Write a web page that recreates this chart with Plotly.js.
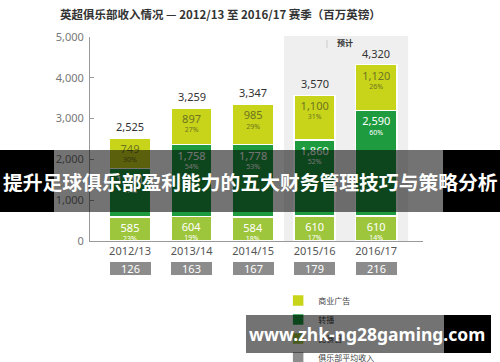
<!DOCTYPE html>
<html><head><meta charset="utf-8">
<script src="https://cdn.plot.ly/plotly-3.0.1.min.js"></script>
<style>html,body{margin:0;padding:0;background:#fff;}#chart{width:500px;height:362px;}</style>
</head><body><div id="chart"></div>
<script>
const seasons = ['2012/13','2013/14','2014/15','2015/16','2016/17'];
const matchday = [585, 604, 584, 610, 610];
const broadcast = [1191, 1758, 1778, 1860, 2590];
const commercial = [749, 897, 985, 1100, 1120];
const matchdayPct = ['23%','19%','18%','17%','14%'];
const broadcastPct = ['47%','54%','53%','52%','60%'];
const commercialPct = ['30%','27%','29%','31%','26%'];
const totals = [2525, 3259, 3347, 3570, 4320];
const avgRevenue = [126, 163, 167, 179, 216];
const legendNames = ['商业广告','转播','比赛日','俱乐部平均收入'];

const CJK = '"Noto Sans CJK SC", "Noto Sans", sans-serif';
const NUM = '"Noto Sans", "Open Sans", sans-serif';
const tpl = "<span style='font-size:11px'>%{y:,}</span><br>%{customdata}";

function barTrace(name, y, pct, color, txtColor, rank) {
  return {
    type: 'bar', name: name, x: seasons, y: y, customdata: pct,
    width: 0.667,
    marker: {color: color, line: {color: '#ffffff', width: 1.5}},
    texttemplate: tpl, textposition: 'inside', insidetextanchor: 'end',
    textangle: 0, constraintext: 'none',
    textfont: {family: NUM, size: 7, color: txtColor},
    hoverinfo: 'skip', legendrank: rank
  };
}

const data = [
  barTrace(legendNames[2], matchday, matchdayPct, '#9ec63d', '#ffffff', 3),
  barTrace(legendNames[1], broadcast, broadcastPct, '#1e9b3f', '#ffffff', 2),
  barTrace(legendNames[0], commercial, commercialPct, '#c8d41a', '#6e7420', 1),
  {type: 'bar', name: legendNames[3], x: seasons, y: seasons.map(() => null),
   width: 0.667, marker: {color: '#8c8c8c', line: {color: '#ffffff', width: 1.5}},
   hoverinfo: 'skip', legendrank: 4}
];

const annotations = [];
seasons.forEach((s, i) => {
  annotations.push({
    x: s, y: totals[i], xref: 'x', yref: 'y', xanchor: 'center', yanchor: 'bottom', yshift: 2,
    text: totals[i].toLocaleString('en-US'), showarrow: false,
    font: {family: NUM, size: 11, color: '#333333'}
  });
  annotations.push({
    x: s, xref: 'x', y: -0.137, yref: 'paper', xanchor: 'center', yanchor: 'middle',
    text: String(avgRevenue[i]), showarrow: false,
    width: 41, height: 13, bgcolor: '#8c8c8c', borderpad: 0, borderwidth: 0,
    font: {family: NUM, size: 11, color: '#ffffff'}
  });
});
// 预计 label
annotations.push({x: 3.5, xref: 'x', y: 0.9706, yref: 'paper', xanchor: 'center', yanchor: 'middle',
  text: '<b>预计</b>', showarrow: false, font: {family: CJK, size: 8, color: '#333333'}});
// banner 1 text
annotations.push({x: 0.4805, xref: 'paper', y: 0.294, yref: 'paper', xanchor: 'center', yanchor: 'middle',
  text: '<b>提升足球俱乐部盈利能力的五大财务管理技巧与策略分析</b>',
  showarrow: false, font: {family: CJK, size: 19.8, color: '#ffffff'}});
// banner 2 boxes (over the legend)
annotations.push({x: 0.7658, xref: 'paper', y: -0.4559, yref: 'paper', xanchor: 'center', yanchor: 'middle',
  text: ' ', showarrow: false,
  width: 198, height: 38, bgcolor: 'rgba(0,0,0,0.55)', borderpad: 0, borderwidth: 0});
annotations.push({x: 1.1336, xref: 'paper', y: -0.4559, yref: 'paper', xanchor: 'center', yanchor: 'middle',
  text: ' ', showarrow: false,
  width: 47, height: 38, bgcolor: '#000000', borderpad: 0, borderwidth: 0});
annotations.push({x: 0.8318, xref: 'paper', y: -0.4559, yref: 'paper', xanchor: 'center', yanchor: 'middle',
  text: '<b>www.zhk-ng28gaming.com</b>', showarrow: false,
  font: {family: NUM, size: 17.5, color: '#ffffff'}});

const shapes = [
  {type: 'rect', layer: 'below', xref: 'x', yref: 'paper', x0: 2.5, x1: 4.52, y0: 0, y1: 1.005,
   fillcolor: '#efefef', line: {width: 0}},
  {type: 'line', layer: 'below', xref: 'x', yref: 'paper', x0: 3.2, x1: 3.2, y0: 0.946, y1: 0.985,
   line: {color: '#cccccc', width: 1}},
  {type: 'rect', layer: 'above', xref: 'paper', yref: 'paper', x0: -0.28, x1: -0.1081, y0: 0.1422, y1: 0.4461,
   fillcolor: '#000000', line: {width: 0}},
  {type: 'rect', layer: 'above', xref: 'paper', yref: 'paper', x0: -0.1081, x1: 1.0601, y0: 0.1422, y1: 0.4461,
   fillcolor: 'rgba(0,0,0,0.55)', line: {width: 0}},
  {type: 'rect', layer: 'above', xref: 'paper', yref: 'paper', x0: 1.0601, x1: 1.24, y0: 0.1422, y1: 0.4461,
   fillcolor: '#000000', line: {width: 0}}
];

const layout = {
  width: 500, height: 362,
  margin: {l: 90, r: 77, t: 37, b: 121, pad: 0, autoexpand: false},
  paper_bgcolor: '#ffffff', plot_bgcolor: 'rgba(0,0,0,0)',
  barmode: 'stack',
  title: {text: '<b>英超俱乐部收入情况 — 2012/13 至 2016/17 赛季（百万英镑）</b>',
    x: 0.12, xanchor: 'left', xref: 'container', y: 0.9586, yanchor: 'middle', yref: 'container',
    font: {family: CJK, size: 11.5, color: '#333333'}},
  xaxis: {type: 'category', range: [-0.65, 4.76], showline: true, linecolor: '#999999', linewidth: 1,
    showgrid: false, zeroline: false, ticks: '', automargin: false,
    tickfont: {family: NUM, size: 11, color: '#555555'}, fixedrange: true},
  yaxis: {range: [0, 5000], tick0: 0, dtick: 1000, tickformat: ',', showline: true, linecolor: '#999999',
    linewidth: 1, showgrid: false, zeroline: false, ticks: 'inside', ticklen: 4, tickcolor: '#999999',
    ticklabelstandoff: 3, automargin: false,
    tickfont: {family: NUM, size: 11, color: '#777777'}, fixedrange: true},
  showlegend: true,
  legend: {x: 0.565, xanchor: 'left', y: -0.2205, yanchor: 'top', orientation: 'v', traceorder: 'normal',
    bgcolor: 'rgba(0,0,0,0)', borderwidth: 0, font: {family: CJK, size: 8, color: '#444444'}},
  annotations: annotations,
  shapes: shapes
};

Plotly.newPlot('chart', data, layout, {displayModeBar: false, staticPlot: true});
</script>
</body></html>
